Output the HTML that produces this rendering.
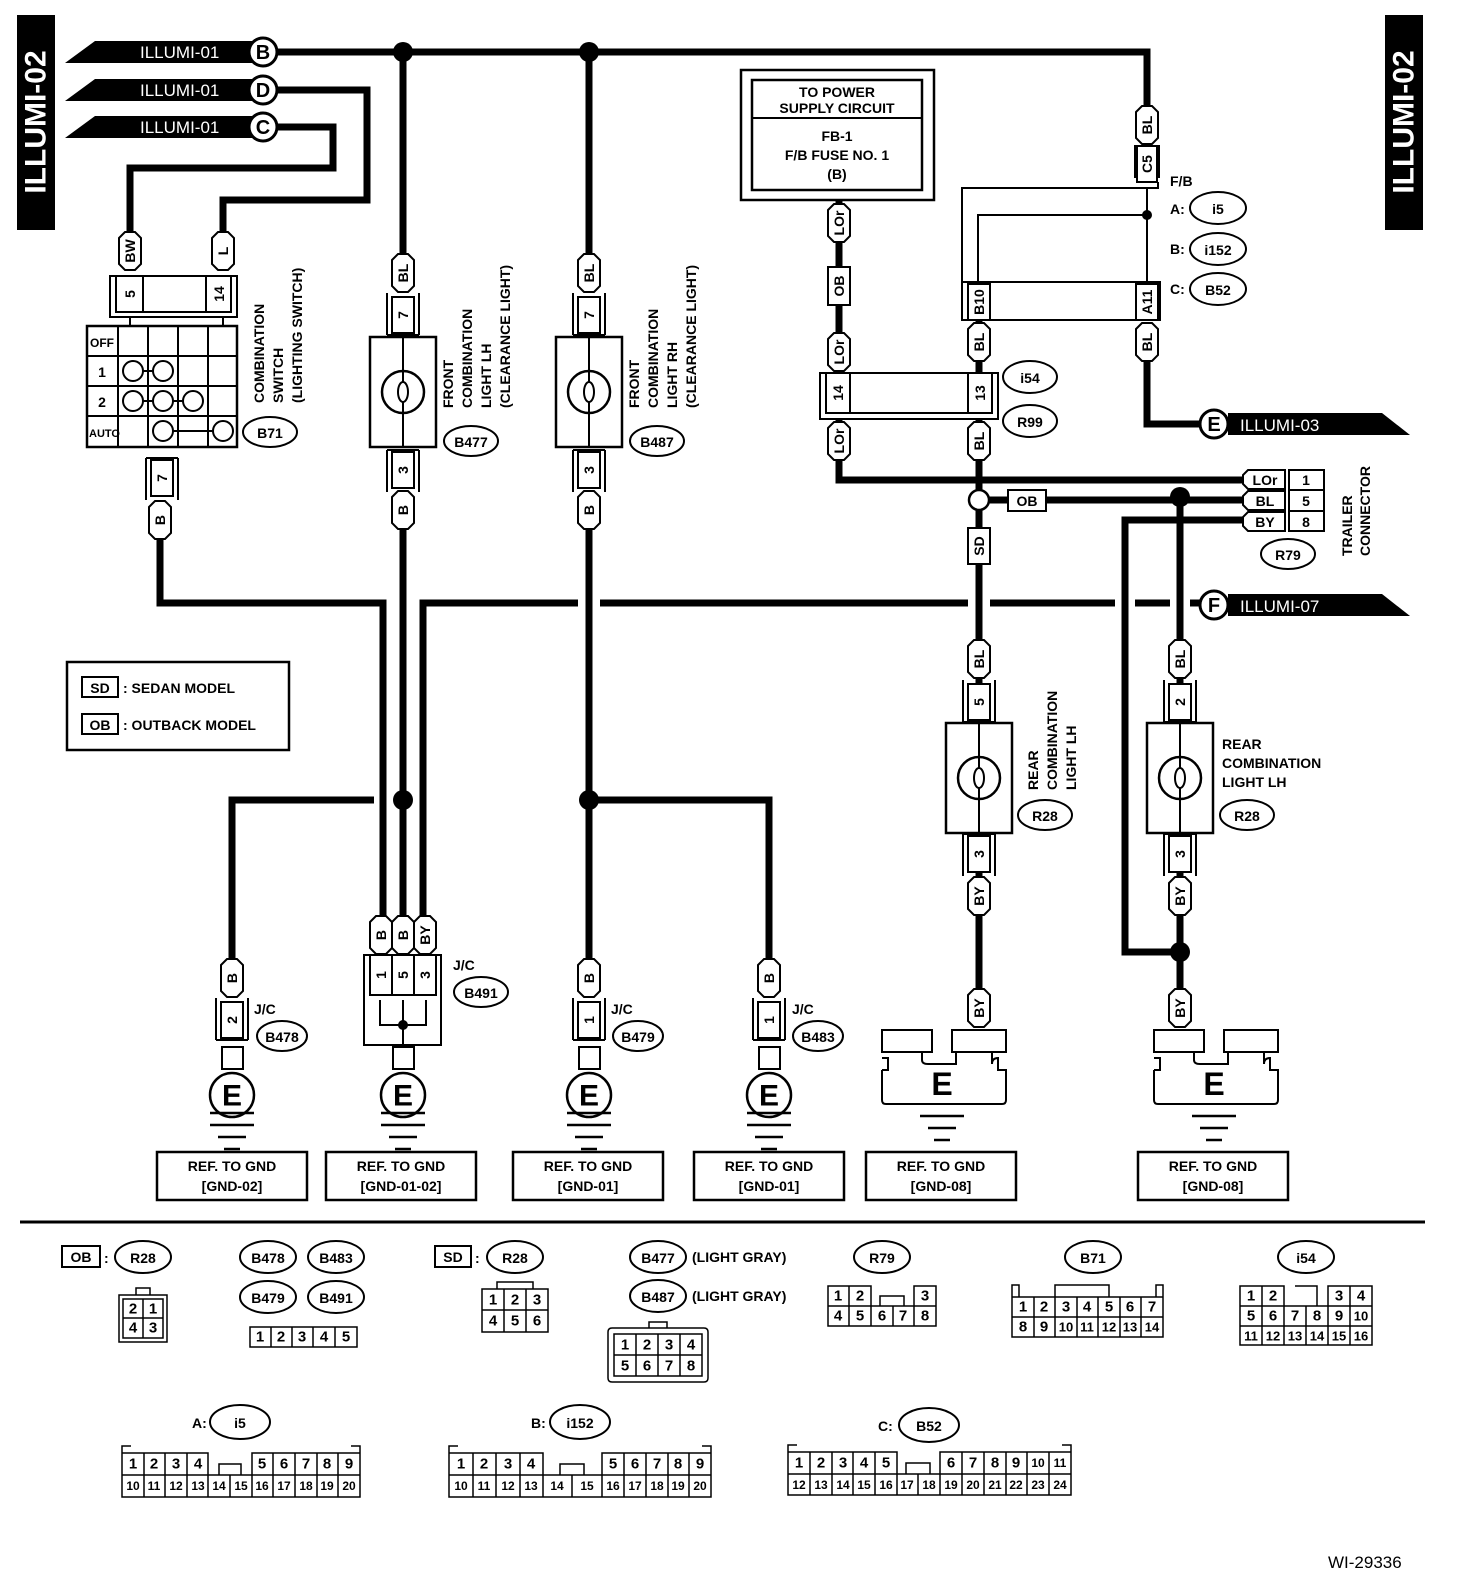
<!DOCTYPE html>
<html><head><meta charset="utf-8"><style>
html,body{margin:0;padding:0;background:#fff}
svg{display:block}
text{font-family:"Liberation Sans",Arial,sans-serif;font-weight:bold;fill:#000}
.s{font-size:14px}
.m{font-size:15px}
.c{text-anchor:middle;dominant-baseline:central}
.w{fill:#fff}
.n{font-weight:normal;font-size:15px;text-anchor:middle;dominant-baseline:central}
</style></head><body>
<svg width="1472" height="1592" viewBox="0 0 1472 1592" xmlns="http://www.w3.org/2000/svg">
<defs>
<path id="pill" d="M-11,-13 L-5,-19 L5,-19 L11,-13 L11,13 L5,19 L-5,19 L-11,13Z" fill="#fff" stroke="#000" stroke-width="2"/>
<g id="c1"><path d="M-16,-22 V20 M16,-22 V20" stroke="#000" stroke-width="2" fill="none"/><rect x="-11" y="-18" width="22" height="36" fill="#fff" stroke="#000" stroke-width="2"/><path d="M-16,20 H16" stroke="#000" stroke-width="2"/></g>
<g id="c1u"><path d="M-16,-20 V22 M16,-20 V22" stroke="#000" stroke-width="2" fill="none"/><rect x="-11" y="-18" width="22" height="36" fill="#fff" stroke="#000" stroke-width="2"/><path d="M-16,-20 H16" stroke="#000" stroke-width="2"/></g>
<g id="lamp"><rect x="-33" y="-55" width="66" height="110" fill="#fff" stroke="#000" stroke-width="2.5"/><line x1="0" y1="-55" x2="0" y2="55" stroke="#000" stroke-width="2"/><circle r="21" fill="#fff" stroke="#000" stroke-width="2.5"/><ellipse rx="5" ry="10" fill="none" stroke="#000" stroke-width="2"/><path d="M0,-21V-10 M0,10V21" stroke="#000" stroke-width="2"/></g>
<g id="gnd"><path d="M-22,0H22 M-14,12H14 M-8,24H8" stroke="#000" stroke-width="2.5"/></g>
<g id="egnd"><rect x="-10" y="-48" width="21" height="22" fill="#fff" stroke="#000" stroke-width="2"/><circle r="22" fill="#fff" stroke="#000" stroke-width="2.5"/><text class="c" style="font-size:30px" y="1">E</text><path d="M-22,18H22" stroke="#000" stroke-width="2.5"/><use href="#gnd" y="30"/></g>
<g id="bigE"><path d="M-60,-58h50v22h-50z M10,-58h54v22h-54z" fill="#fff" stroke="#000" stroke-width="2"/><path d="M-60,-18 V12 Q-60,16 -56,16 H60 Q64,16 64,12 V-18 H56 V-30 Q50,-30 50,-24 V-36 M-60,-18 H-54 V-30 H-60 M-20,-36 V-28 Q-20,-24 -14,-24 H14 V-36" fill="none" stroke="#000" stroke-width="2"/><text class="c" style="font-size:32px" x="0" y="-4">E</text><use href="#gnd" y="28"/></g>
</defs>

<!-- side titles -->
<rect x="17" y="15" width="38" height="215" fill="#000"/>
<text class="c w" transform="translate(36,122) rotate(-90)" style="font-size:30px">ILLUMI-02</text>
<rect x="1385" y="15" width="38" height="215" fill="#000"/>
<text class="c w" transform="translate(1404,122) rotate(-90)" style="font-size:30px">ILLUMI-02</text>

<!-- left flags -->
<g>
<polygon points="65,63 95,41 252,41 252,63" fill="#000"/><text class="m w" x="140" y="58" style="font-weight:normal;font-size:17px">ILLUMI-01</text>
<polygon points="65,101 95,79 252,79 252,101" fill="#000"/><text class="m w" x="140" y="96" style="font-weight:normal;font-size:17px">ILLUMI-01</text>
<polygon points="65,138 95,116 252,116 252,138" fill="#000"/><text class="m w" x="140" y="133" style="font-weight:normal;font-size:17px">ILLUMI-01</text>
</g>

<!-- wires -->
<g stroke="#000" stroke-width="7" fill="none" stroke-linejoin="miter">
<path d="M277,52 H1147 V105"/>
<path d="M277,90 H367 V200 H223 V232"/>
<path d="M277,127 H333 V168 H130 V232"/>
<path d="M403,52 V255 M403,530 V915"/>
<path d="M589,52 V255 M589,530 V962"/>
<path d="M160,540 V603 H383 V915"/>
<path d="M423,915 V603 H578 M600,603 H968 M990,603 H1115 M1135,603 H1170 M1190,603 H1202"/>
<path d="M232,960 V800 H374"/>
<path d="M589,800 H769 V962"/>
<path d="M839,200 V480 H1242"/>
<path d="M979,320 V490 M979,510 V990"/>
<path d="M989,500 H1242"/>
<path d="M1147,360 V424 H1202"/>
<path d="M1242,520 H1125 V952 H1180"/>
<path d="M1180,497 V990"/>
</g>
<!-- junction dots -->
<g fill="#000"><circle cx="403" cy="52" r="10"/><circle cx="589" cy="52" r="10"/><circle cx="403" cy="800" r="10"/><circle cx="589" cy="800" r="10"/><circle cx="1180" cy="497" r="10"/><circle cx="1180" cy="952" r="10"/></g>
<circle cx="979" cy="500" r="10" fill="#fff" stroke="#000" stroke-width="2.5"/>

<!-- flag circles B D C -->
<g fill="#fff" stroke="#000" stroke-width="3"><circle cx="263" cy="52" r="14"/><circle cx="263" cy="90" r="14"/><circle cx="263" cy="127" r="14"/><circle cx="1214" cy="424" r="14"/><circle cx="1214" cy="605" r="14"/></g>
<text class="c" x="263" y="53" style="font-size:20px">B</text>
<text class="c" x="263" y="91" style="font-size:20px">D</text>
<text class="c" x="263" y="128" style="font-size:20px">C</text>

<!-- right flags -->
<polygon points="1228,413 1382,413 1410,435 1228,435" fill="#000"/><text class="w" x="1240" y="431" style="font-weight:normal;font-size:17px">ILLUMI-03</text>
<text class="c" x="1214" y="425" style="font-size:20px">E</text>
<polygon points="1228,594 1382,594 1410,616 1228,616" fill="#000"/><text class="w" x="1240" y="612" style="font-weight:normal;font-size:17px">ILLUMI-07</text>
<text class="c" x="1214" y="606" style="font-size:20px">F</text>

<!-- combination switch -->
<use href="#pill" x="130" y="251"/><text class="s c" transform="translate(130,251) rotate(-90)">BW</text>
<use href="#pill" x="223" y="251"/><text class="s c" transform="translate(223,251) rotate(-90)">L</text>
<rect x="110" y="276" width="127" height="41" fill="#fff" stroke="#000" stroke-width="2"/>
<rect x="116" y="276" width="115" height="36" fill="#fff" stroke="#000" stroke-width="2"/>
<rect x="116" y="276" width="27" height="36" fill="#fff" stroke="#000" stroke-width="2"/>
<rect x="206" y="276" width="25" height="36" fill="#fff" stroke="#000" stroke-width="2"/>
<text class="s c" transform="translate(130,294) rotate(-90)">5</text>
<text class="s c" transform="translate(219,294) rotate(-90)">14</text>
<path d="M130,317V326 M223,317V326" stroke="#000" stroke-width="2"/>
<rect x="87" y="326" width="150" height="121" fill="#fff" stroke="#000" stroke-width="2.5"/>
<path d="M118,326V447 M148,326V447 M178,326V447 M208,326V447 M87,356H237 M87,386H237 M87,416H237" stroke="#000" stroke-width="2"/>
<text x="90" y="347" style="font-size:12px">OFF</text>
<text class="c" x="102" y="372" style="font-size:14px">1</text>
<text class="c" x="102" y="402" style="font-size:14px">2</text>
<text x="89" y="437" style="font-size:11px">AUTO</text>
<g fill="#fff" stroke="#000" stroke-width="2"><path d="M133,371H163 M133,401H193 M163,431H223"/><circle cx="133" cy="371" r="10"/><circle cx="163" cy="371" r="10"/><circle cx="133" cy="401" r="10"/><circle cx="163" cy="401" r="10"/><circle cx="193" cy="401" r="10"/><circle cx="163" cy="431" r="10"/><circle cx="223" cy="431" r="10"/>
<ellipse cx="270" cy="432" rx="27" ry="15"/></g>
<text class="s c" x="270" y="433">B71</text>
<g class="s"><text transform="translate(264,403) rotate(-90)">COMBINATION</text><text transform="translate(283,403) rotate(-90)">SWITCH</text><text transform="translate(302,403) rotate(-90)">(LIGHTING SWITCH)</text></g>
<use href="#c1u" x="162" y="478"/><text class="s c" transform="translate(162,478) rotate(-90)">7</text>
<use href="#pill" x="160" y="520"/><text class="s c" transform="translate(160,520) rotate(-90)">B</text>

<!-- front LH -->
<use href="#pill" x="403" y="273"/><text class="s c" transform="translate(403,273) rotate(-90)">BL</text>
<use href="#c1" x="403" y="315"/><text class="s c" transform="translate(403,315) rotate(-90)">7</text>
<use href="#lamp" x="403" y="392"/>
<use href="#c1u" x="403" y="470"/><text class="s c" transform="translate(403,470) rotate(-90)">3</text>
<use href="#pill" x="403" y="510"/><text class="s c" transform="translate(403,510) rotate(-90)">B</text>
<ellipse cx="471" cy="441" rx="27" ry="15" fill="#fff" stroke="#000" stroke-width="2"/><text class="s c" x="471" y="442">B477</text>
<g class="s"><text transform="translate(453,408) rotate(-90)">FRONT</text><text transform="translate(472,408) rotate(-90)">COMBINATION</text><text transform="translate(491,408) rotate(-90)">LIGHT LH</text><text transform="translate(510,408) rotate(-90)">(CLEARANCE LIGHT)</text></g>

<!-- front RH -->
<use href="#pill" x="589" y="273"/><text class="s c" transform="translate(589,273) rotate(-90)">BL</text>
<use href="#c1" x="589" y="315"/><text class="s c" transform="translate(589,315) rotate(-90)">7</text>
<use href="#lamp" x="589" y="392"/>
<use href="#c1u" x="589" y="470"/><text class="s c" transform="translate(589,470) rotate(-90)">3</text>
<use href="#pill" x="589" y="510"/><text class="s c" transform="translate(589,510) rotate(-90)">B</text>
<ellipse cx="657" cy="441" rx="27" ry="15" fill="#fff" stroke="#000" stroke-width="2"/><text class="s c" x="657" y="442">B487</text>
<g class="s"><text transform="translate(639,408) rotate(-90)">FRONT</text><text transform="translate(658,408) rotate(-90)">COMBINATION</text><text transform="translate(677,408) rotate(-90)">LIGHT RH</text><text transform="translate(696,408) rotate(-90)">(CLEARANCE LIGHT)</text></g>

<!-- legend -->
<rect x="67" y="662" width="222" height="88" fill="#fff" stroke="#000" stroke-width="2.5"/>
<rect x="82" y="677" width="36" height="20" fill="#fff" stroke="#000" stroke-width="2"/><text class="s c" x="100" y="688">SD</text><text class="s" x="123" y="693">: SEDAN MODEL</text>
<rect x="82" y="714" width="36" height="20" fill="#fff" stroke="#000" stroke-width="2"/><text class="s c" x="100" y="725">OB</text><text class="s" x="123" y="730">: OUTBACK MODEL</text>

<!-- grounds -->
<use href="#pill" x="232" y="978"/><text class="s c" transform="translate(232,978) rotate(-90)">B</text>
<use href="#c1" x="232" y="1020"/><text class="s c" transform="translate(232,1020) rotate(-90)">2</text>
<use href="#egnd" x="232" y="1095"/>
<text class="s" x="254" y="1014">J/C</text>
<ellipse cx="282" cy="1036" rx="25" ry="15" fill="#fff" stroke="#000" stroke-width="2"/><text class="s c" x="282" y="1037">B478</text>

<use href="#pill" x="381" y="935"/><text class="s c" transform="translate(381,935) rotate(-90)">B</text>
<use href="#pill" x="403" y="935"/><text class="s c" transform="translate(403,935) rotate(-90)">B</text>
<use href="#pill" x="425" y="935"/><text class="s c" transform="translate(425,935) rotate(-90)">BY</text>
<rect x="364" y="955" width="77" height="90" fill="#fff" stroke="#000" stroke-width="2"/>
<rect x="370" y="955" width="66" height="40" fill="#fff" stroke="#000" stroke-width="2"/>
<path d="M392,955V995 M414,955V995 M380,1000V1025H426V1000 M403,1000V1045" stroke="#000" stroke-width="2" fill="none"/>
<circle cx="403" cy="1025" r="5" fill="#000"/>
<text class="s c" transform="translate(381,975) rotate(-90)">1</text><text class="s c" transform="translate(403,975) rotate(-90)">5</text><text class="s c" transform="translate(425,975) rotate(-90)">3</text>
<use href="#egnd" x="403" y="1095"/>
<text class="s" x="453" y="970">J/C</text>
<ellipse cx="481" cy="992" rx="27" ry="15" fill="#fff" stroke="#000" stroke-width="2"/><text class="s c" x="481" y="993">B491</text>

<use href="#pill" x="589" y="978"/><text class="s c" transform="translate(589,978) rotate(-90)">B</text>
<use href="#c1" x="589" y="1020"/><text class="s c" transform="translate(589,1020) rotate(-90)">1</text>
<use href="#egnd" x="589" y="1095"/>
<text class="s" x="611" y="1014">J/C</text>
<ellipse cx="638" cy="1036" rx="25" ry="15" fill="#fff" stroke="#000" stroke-width="2"/><text class="s c" x="638" y="1037">B479</text>

<use href="#pill" x="769" y="978"/><text class="s c" transform="translate(769,978) rotate(-90)">B</text>
<use href="#c1" x="769" y="1020"/><text class="s c" transform="translate(769,1020) rotate(-90)">1</text>
<use href="#egnd" x="769" y="1095"/>
<text class="s" x="792" y="1014">J/C</text>
<ellipse cx="818" cy="1036" rx="25" ry="15" fill="#fff" stroke="#000" stroke-width="2"/><text class="s c" x="818" y="1037">B483</text>

<!-- power supply box -->
<rect x="741" y="70" width="193" height="130" fill="#fff" stroke="#000" stroke-width="2.5"/>
<rect x="752" y="80" width="170" height="110" fill="#fff" stroke="#000" stroke-width="2.5"/>
<line x1="752" y1="118" x2="922" y2="118" stroke="#000" stroke-width="2"/>
<text class="s c" x="837" y="92">TO POWER</text><text class="s c" x="837" y="108">SUPPLY CIRCUIT</text>
<text class="s c" x="837" y="136">FB-1</text><text class="s c" x="837" y="155">F/B FUSE NO. 1</text><text class="s c" x="837" y="174">(B)</text>
<use href="#pill" x="839" y="223"/><text class="s c" transform="translate(839,223) rotate(-90)">LOr</text>
<rect x="828" y="267" width="22" height="38" fill="#fff" stroke="#000" stroke-width="2"/><text class="s c" transform="translate(839,286) rotate(-90)">OB</text>
<use href="#pill" x="839" y="352"/><text class="s c" transform="translate(839,352) rotate(-90)">LOr</text>
<rect x="820" y="373" width="178" height="46" fill="#fff" stroke="#000" stroke-width="2"/>
<rect x="826" y="373" width="166" height="40" fill="#fff" stroke="#000" stroke-width="2"/>
<rect x="826" y="373" width="24" height="40" fill="#fff" stroke="#000" stroke-width="2"/>
<rect x="968" y="373" width="24" height="40" fill="#fff" stroke="#000" stroke-width="2"/>
<text class="s c" transform="translate(838,393) rotate(-90)">14</text><text class="s c" transform="translate(980,393) rotate(-90)">13</text>
<use href="#pill" x="839" y="441"/><text class="s c" transform="translate(839,441) rotate(-90)">LOr</text>
<use href="#pill" x="979" y="342"/><text class="s c" transform="translate(979,342) rotate(-90)">BL</text>
<use href="#pill" x="979" y="441"/><text class="s c" transform="translate(979,441) rotate(-90)">BL</text>
<ellipse cx="1030" cy="377" rx="27" ry="16" fill="#fff" stroke="#000" stroke-width="2"/><text class="s c" x="1030" y="378">i54</text>
<ellipse cx="1030" cy="421" rx="27" ry="16" fill="#fff" stroke="#000" stroke-width="2"/><text class="s c" x="1030" y="422">R99</text>

<!-- F/B -->
<use href="#pill" x="1147" y="125"/><text class="s c" transform="translate(1147,125) rotate(-90)">BL</text>
<path d="M1135,178V145 M1159,178V145" stroke="#000" stroke-width="2"/>
<rect x="1137" y="146" width="20" height="36" fill="#fff" stroke="#000" stroke-width="2"/><text class="s c" transform="translate(1147,164) rotate(-90)">C5</text>
<path d="M962,320V188H1158V182 M978,282V215H1147 M1147,188V282" fill="none" stroke="#000" stroke-width="2"/>
<circle cx="1147" cy="215" r="5" fill="#000"/>
<rect x="962" y="282" width="198" height="38" fill="#fff" stroke="#000" stroke-width="2"/>
<rect x="968" y="284" width="22" height="36" fill="#fff" stroke="#000" stroke-width="2"/><text class="s c" transform="translate(979,302) rotate(-90)">B10</text>
<rect x="1136" y="284" width="22" height="36" fill="#fff" stroke="#000" stroke-width="2"/><text class="s c" transform="translate(1147,302) rotate(-90)">A11</text>
<use href="#pill" x="1147" y="342"/><text class="s c" transform="translate(1147,342) rotate(-90)">BL</text>
<text class="s" x="1170" y="186">F/B</text>
<text class="s" x="1170" y="214">A:</text><ellipse cx="1218" cy="208" rx="28" ry="16" fill="#fff" stroke="#000" stroke-width="2"/><text class="s c" x="1218" y="209">i5</text>
<text class="s" x="1170" y="254">B:</text><ellipse cx="1218" cy="249" rx="28" ry="16" fill="#fff" stroke="#000" stroke-width="2"/><text class="s c" x="1218" y="250">i152</text>
<text class="s" x="1170" y="294">C:</text><ellipse cx="1218" cy="289" rx="28" ry="16" fill="#fff" stroke="#000" stroke-width="2"/><text class="s c" x="1218" y="290">B52</text>

<!-- trailer -->
<rect x="1008" y="490" width="38" height="21" fill="#fff" stroke="#000" stroke-width="2"/><text class="s c" x="1027" y="501">OB</text>
<g fill="#fff" stroke="#000" stroke-width="2">
<path d="M1248,470H1285V489H1248L1243,484V475Z"/><path d="M1248,491H1285V510H1248L1243,505V496Z"/><path d="M1248,512H1285V531H1248L1243,526V517Z"/>
<rect x="1289" y="470" width="35" height="61"/>
<ellipse cx="1288" cy="554" rx="27" ry="15"/></g>
<path d="M1289,490H1324 M1289,511H1324" stroke="#000" stroke-width="2"/>
<text class="s c" x="1265" y="480">LOr</text><text class="s c" x="1265" y="501">BL</text><text class="s c" x="1265" y="522">BY</text>
<text class="s c" x="1306" y="480">1</text><text class="s c" x="1306" y="501">5</text><text class="s c" x="1306" y="522">8</text>
<text class="s c" x="1288" y="555">R79</text>
<text class="s" transform="translate(1352,556) rotate(-90)">TRAILER</text><text class="s" transform="translate(1370,556) rotate(-90)">CONNECTOR</text>

<!-- rear LH (SD) -->
<rect x="968" y="528" width="22" height="36" fill="#fff" stroke="#000" stroke-width="2"/><text class="s c" transform="translate(979,546) rotate(-90)">SD</text>
<use href="#pill" x="979" y="659"/><text class="s c" transform="translate(979,659) rotate(-90)">BL</text>
<use href="#c1" x="979" y="702"/><text class="s c" transform="translate(979,702) rotate(-90)">5</text>
<use href="#lamp" x="979" y="778"/>
<use href="#c1u" x="979" y="854"/><text class="s c" transform="translate(979,854) rotate(-90)">3</text>
<use href="#pill" x="979" y="896"/><text class="s c" transform="translate(979,896) rotate(-90)">BY</text>
<use href="#pill" x="979" y="1008"/><text class="s c" transform="translate(979,1008) rotate(-90)">BY</text>
<use href="#bigE" x="942" y="1088"/>
<g class="s"><text transform="translate(1038,790) rotate(-90)">REAR</text><text transform="translate(1057,790) rotate(-90)">COMBINATION</text><text transform="translate(1076,790) rotate(-90)">LIGHT LH</text></g>
<ellipse cx="1045" cy="815" rx="27" ry="15" fill="#fff" stroke="#000" stroke-width="2"/><text class="s c" x="1045" y="816">R28</text>

<!-- rear LH (OB) -->
<use href="#pill" x="1180" y="659"/><text class="s c" transform="translate(1180,659) rotate(-90)">BL</text>
<use href="#c1" x="1180" y="702"/><text class="s c" transform="translate(1180,702) rotate(-90)">2</text>
<use href="#lamp" x="1180" y="778"/>
<use href="#c1u" x="1180" y="854"/><text class="s c" transform="translate(1180,854) rotate(-90)">3</text>
<use href="#pill" x="1180" y="896"/><text class="s c" transform="translate(1180,896) rotate(-90)">BY</text>
<use href="#pill" x="1180" y="1008"/><text class="s c" transform="translate(1180,1008) rotate(-90)">BY</text>
<use href="#bigE" x="1214" y="1088"/>
<text class="s" x="1222" y="749">REAR</text><text class="s" x="1222" y="768">COMBINATION</text><text class="s" x="1222" y="787">LIGHT LH</text>
<ellipse cx="1247" cy="815" rx="27" ry="15" fill="#fff" stroke="#000" stroke-width="2"/><text class="s c" x="1247" y="816">R28</text>

<!-- REF boxes -->
<g fill="#fff" stroke="#000" stroke-width="2.5">
<rect x="157" y="1152" width="150" height="48"/><rect x="326" y="1152" width="150" height="48"/><rect x="513" y="1152" width="150" height="48"/><rect x="694" y="1152" width="150" height="48"/><rect x="866" y="1152" width="150" height="48"/><rect x="1138" y="1152" width="150" height="48"/></g>
<g class="s" style="text-anchor:middle">
<text x="232" y="1171">REF. TO GND</text><text x="232" y="1191">[GND-02]</text>
<text x="401" y="1171">REF. TO GND</text><text x="401" y="1191">[GND-01-02]</text>
<text x="588" y="1171">REF. TO GND</text><text x="588" y="1191">[GND-01]</text>
<text x="769" y="1171">REF. TO GND</text><text x="769" y="1191">[GND-01]</text>
<text x="941" y="1171">REF. TO GND</text><text x="941" y="1191">[GND-08]</text>
<text x="1213" y="1171">REF. TO GND</text><text x="1213" y="1191">[GND-08]</text></g>

<line x1="20" y1="1222" x2="1425" y2="1222" stroke="#000" stroke-width="3"/>

<!-- bottom connectors -->
<g fill="#fff" stroke="#000" stroke-width="2">
<rect x="62" y="1246" width="38" height="21"/>
<ellipse cx="143" cy="1257" rx="28" ry="16"/>
<ellipse cx="268" cy="1257" rx="28" ry="16"/><ellipse cx="336" cy="1257" rx="28" ry="16"/>
<ellipse cx="268" cy="1297" rx="28" ry="16"/><ellipse cx="336" cy="1297" rx="28" ry="16"/>
<rect x="435" y="1246" width="36" height="21"/>
<ellipse cx="515" cy="1257" rx="28" ry="16"/>
<ellipse cx="658" cy="1257" rx="28" ry="16"/><ellipse cx="658" cy="1296" rx="28" ry="16"/>
<ellipse cx="882" cy="1257" rx="28" ry="16"/>
<ellipse cx="1093" cy="1257" rx="28" ry="16"/>
<ellipse cx="1306" cy="1257" rx="28" ry="16"/>
<ellipse cx="240" cy="1422" rx="30" ry="17"/>
<ellipse cx="580" cy="1422" rx="30" ry="17"/>
<ellipse cx="929" cy="1425" rx="30" ry="17"/>
</g>
<text class="s c" x="81" y="1257">OB</text><text class="s" x="104" y="1263">:</text><text class="s c" x="143" y="1258">R28</text>
<text class="s c" x="268" y="1258">B478</text><text class="s c" x="336" y="1258">B483</text>
<text class="s c" x="268" y="1298">B479</text><text class="s c" x="336" y="1298">B491</text>
<text class="s c" x="453" y="1257">SD</text><text class="s" x="475" y="1263">:</text><text class="s c" x="515" y="1258">R28</text>
<text class="s c" x="658" y="1258">B477</text><text class="s" x="692" y="1262">(LIGHT GRAY)</text>
<text class="s c" x="658" y="1297">B487</text><text class="s" x="692" y="1301">(LIGHT GRAY)</text>
<text class="s c" x="882" y="1258">R79</text>
<text class="s c" x="1093" y="1258">B71</text>
<text class="s c" x="1306" y="1258">i54</text>
<text class="s" x="192" y="1428">A:</text><text class="s c" x="240" y="1423">i5</text>
<text class="s" x="531" y="1428">B:</text><text class="s c" x="580" y="1423">i152</text>
<text class="s" x="878" y="1431">C:</text><text class="s c" x="929" y="1426">B52</text>

<g fill="none" stroke="#000" stroke-width="1.5">
<!-- OB R28 -->
<path d="M119,1295H167V1342H119Z M123,1299H163V1338H123Z M143,1299V1338 M123,1318H163 M136,1295V1288H150V1295"/>
<!-- 5 pin -->
<path d="M250,1327H357V1347H250Z M271,1327V1347 M292,1327V1347 M313,1327V1347 M335,1327V1347"/>
<!-- SD R28 -->
<path d="M482,1289H548V1332H482Z M504,1289V1332 M526,1289V1332 M482,1310H548 M497,1289V1282H533V1289"/>
<!-- B477 8pin -->
<path d="M612,1328H704Q708,1328 708,1332V1378Q708,1382 704,1382H612Q608,1382 608,1378V1332Q608,1328 612,1328Z M614,1334H702V1376H614Z M636,1334V1376 M658,1334V1376 M680,1334V1376 M614,1355H702 M649,1328V1322H667V1328"/>
<!-- R79 -->
<path d="M828,1286H871V1306H828Z M849,1286V1306 M914,1286H936V1306H914Z M828,1306H936V1326H828Z M849,1306V1326 M871,1306V1326 M893,1306V1326 M914,1306V1326 M880,1306V1296H904V1306"/>
<!-- B71 -->
<path d="M1012,1297H1163V1337H1012Z M1012,1317H1163 M1034,1297V1337 M1055,1297V1337 M1077,1297V1337 M1098,1297V1337 M1120,1297V1337 M1141,1297V1337 M1012,1297V1285H1019V1297 M1156,1297V1285H1163V1297 M1055,1297V1285H1109V1297"/>
<!-- i54 -->
<path d="M1240,1286H1284V1306H1240Z M1262,1286V1306 M1328,1286H1372V1306H1328Z M1350,1286V1306 M1240,1306H1372V1345H1240Z M1240,1326H1372 M1262,1306V1345 M1284,1306V1345 M1306,1306V1345 M1328,1306V1345 M1350,1306V1345 M1295,1286H1317V1306"/>
<!-- A i5 -->
<path d="M122,1453H208V1475H122Z M144,1453V1475 M165,1453V1475 M187,1453V1475 M252,1453H360V1475H252Z M273,1453V1475 M295,1453V1475 M317,1453V1475 M338,1453V1475 M122,1475H360V1497H122Z M144,1475V1497 M165,1475V1497 M187,1475V1497 M208,1475V1497 M230,1475V1497 M252,1475V1497 M273,1475V1497 M295,1475V1497 M317,1475V1497 M338,1475V1497 M219,1475V1464H241V1475 M122,1453V1446H131 M360,1453V1446H351"/>
<!-- B i152 -->
<path d="M449,1453H543V1475H449Z M473,1453V1475 M496,1453V1475 M520,1453V1475 M602,1453H711V1475H602Z M624,1453V1475 M646,1453V1475 M668,1453V1475 M689,1453V1475 M449,1475H711V1497H449Z M473,1475V1497 M496,1475V1497 M520,1475V1497 M543,1475V1497 M572,1475V1497 M602,1475V1497 M624,1475V1497 M646,1475V1497 M668,1475V1497 M689,1475V1497 M560,1475V1464H584V1475 M449,1453V1446H458 M711,1453V1446H702"/>
<!-- C B52 -->
<path d="M788,1452H897V1474H788Z M810,1452V1474 M832,1452V1474 M853,1452V1474 M875,1452V1474 M940,1452H1071V1474H940Z M962,1452V1474 M984,1452V1474 M1006,1452V1474 M1027,1452V1474 M1049,1452V1474 M788,1474H1071V1495H788Z M810,1474V1495 M832,1474V1495 M853,1474V1495 M875,1474V1495 M897,1474V1495 M918,1474V1495 M940,1474V1495 M962,1474V1495 M984,1474V1495 M1006,1474V1495 M1027,1474V1495 M1049,1474V1495 M906,1474V1463H930V1474 M788,1452V1445H797 M1071,1452V1445H1062"/>
</g>
<g class="n">
<text x="133" y="1309">2</text><text x="153" y="1309">1</text><text x="133" y="1328">4</text><text x="153" y="1328">3</text>
<text x="260" y="1337">1</text><text x="281" y="1337">2</text><text x="302" y="1337">3</text><text x="324" y="1337">4</text><text x="346" y="1337">5</text>
<text x="493" y="1300">1</text><text x="515" y="1300">2</text><text x="537" y="1300">3</text><text x="493" y="1321">4</text><text x="515" y="1321">5</text><text x="537" y="1321">6</text>
<text x="625" y="1345">1</text><text x="647" y="1345">2</text><text x="669" y="1345">3</text><text x="691" y="1345">4</text><text x="625" y="1366">5</text><text x="647" y="1366">6</text><text x="669" y="1366">7</text><text x="691" y="1366">8</text>
<text x="838" y="1296">1</text><text x="860" y="1296">2</text><text x="925" y="1296">3</text><text x="838" y="1316">4</text><text x="860" y="1316">5</text><text x="882" y="1316">6</text><text x="903" y="1316">7</text><text x="925" y="1316">8</text>
<text x="1023" y="1307">1</text><text x="1044" y="1307">2</text><text x="1066" y="1307">3</text><text x="1087" y="1307">4</text><text x="1109" y="1307">5</text><text x="1130" y="1307">6</text><text x="1152" y="1307">7</text>
<text x="1023" y="1327">8</text><text x="1044" y="1327">9</text><text x="1066" y="1327" style="font-size:13px">10</text><text x="1087" y="1327" style="font-size:13px">11</text><text x="1109" y="1327" style="font-size:13px">12</text><text x="1130" y="1327" style="font-size:13px">13</text><text x="1152" y="1327" style="font-size:13px">14</text>
<text x="1251" y="1296">1</text><text x="1273" y="1296">2</text><text x="1339" y="1296">3</text><text x="1361" y="1296">4</text>
<text x="1251" y="1316">5</text><text x="1273" y="1316">6</text><text x="1295" y="1316">7</text><text x="1317" y="1316">8</text><text x="1339" y="1316">9</text><text x="1361" y="1316" style="font-size:13px">10</text>
<g style="font-size:13px"><text x="1251" y="1336">11</text><text x="1273" y="1336">12</text><text x="1295" y="1336">13</text><text x="1317" y="1336">14</text><text x="1339" y="1336">15</text><text x="1361" y="1336">16</text></g>
<text x="133" y="1464">1</text><text x="154" y="1464">2</text><text x="176" y="1464">3</text><text x="198" y="1464">4</text><text x="262" y="1464">5</text><text x="284" y="1464">6</text><text x="306" y="1464">7</text><text x="327" y="1464">8</text><text x="349" y="1464">9</text>
<g style="font-size:12px"><text x="133" y="1486">10</text><text x="154" y="1486">11</text><text x="176" y="1486">12</text><text x="198" y="1486">13</text><text x="219" y="1486">14</text><text x="241" y="1486">15</text><text x="262" y="1486">16</text><text x="284" y="1486">17</text><text x="306" y="1486">18</text><text x="327" y="1486">19</text><text x="349" y="1486">20</text></g>
<text x="461" y="1464">1</text><text x="484" y="1464">2</text><text x="508" y="1464">3</text><text x="531" y="1464">4</text><text x="613" y="1464">5</text><text x="635" y="1464">6</text><text x="657" y="1464">7</text><text x="678" y="1464">8</text><text x="700" y="1464">9</text>
<g style="font-size:12px"><text x="461" y="1486">10</text><text x="484" y="1486">11</text><text x="508" y="1486">12</text><text x="531" y="1486">13</text><text x="557" y="1486">14</text><text x="587" y="1486">15</text><text x="613" y="1486">16</text><text x="635" y="1486">17</text><text x="657" y="1486">18</text><text x="678" y="1486">19</text><text x="700" y="1486">20</text></g>
<text x="799" y="1463">1</text><text x="821" y="1463">2</text><text x="843" y="1463">3</text><text x="864" y="1463">4</text><text x="886" y="1463">5</text><text x="951" y="1463">6</text><text x="973" y="1463">7</text><text x="995" y="1463">8</text><text x="1016" y="1463">9</text><text x="1038" y="1463" style="font-size:12px">10</text><text x="1060" y="1463" style="font-size:12px">11</text>
<g style="font-size:12px"><text x="799" y="1485">12</text><text x="821" y="1485">13</text><text x="843" y="1485">14</text><text x="864" y="1485">15</text><text x="886" y="1485">16</text><text x="907" y="1485">17</text><text x="929" y="1485">18</text><text x="951" y="1485">19</text><text x="973" y="1485">20</text><text x="995" y="1485">21</text><text x="1016" y="1485">22</text><text x="1038" y="1485">23</text><text x="1060" y="1485">24</text></g>
</g>
<text x="1328" y="1568" style="font-weight:normal;font-size:17px">WI-29336</text>
</svg>
</body></html>
